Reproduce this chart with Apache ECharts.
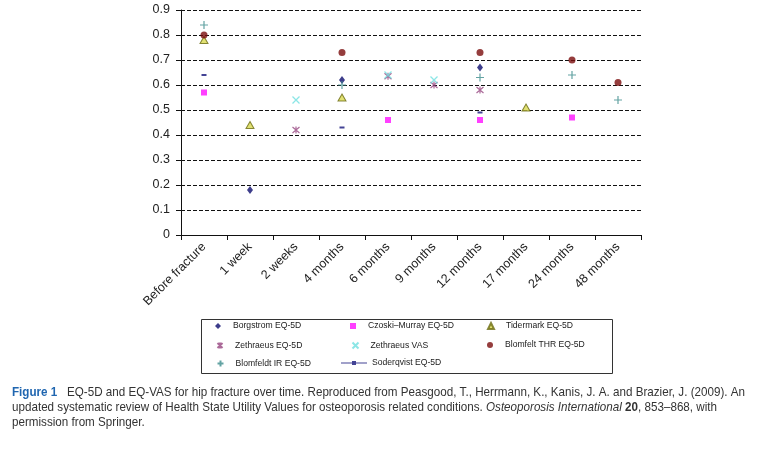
<!DOCTYPE html>
<html>
<head>
<meta charset="utf-8">
<script src="https://cdn.jsdelivr.net/npm/echarts@6/dist/echarts.min.js"></script>
<style>
html,body{margin:0;padding:0;background:#fff;}
#c{width:768px;height:454px;}
</style>
</head>
<body>
<div id="c"></div>
<script>
// ---- data ----
var categories = ['Before fracture','1 week','2 weeks','4 months','6 months','9 months','12 months','17 months','24 months','48 months'];
var yTicks = [0,0.1,0.2,0.3,0.4,0.5,0.6,0.7,0.8,0.9];
var borgstrom = [null,0.18,null,0.62,null,null,0.67,null,null,null];
var czoskiMurray = [0.57,null,null,null,0.46,null,0.46,null,0.47,null];
var tidermark = [0.78,0.44,null,0.55,null,null,null,0.51,null,null];
var zethraeusEq = [null,null,0.42,null,0.635,0.60,0.58,null,null,null];
var zethraeusVas = [null,null,0.54,null,0.64,0.62,null,null,null,null];
var blomfeltThr = [0.80,null,null,0.73,null,null,0.73,null,0.70,0.61];
var blomfeldtIr = [0.84,null,null,0.60,null,null,0.63,null,0.64,0.54];
var soderqvist = [0.64,null,null,0.43,null,null,0.49,null,null,null];

var FONT = '"Liberation Sans", Arial, Helvetica, sans-serif';
var CAP_SIZE = 13;

var SYM_X = 'path://M0,0L10,10M10,0L0,10';
var SYM_AST = 'path://M0,0L10,10M10,0L0,10M5,-1L5,11';
var SYM_PLUS = 'path://M5,0L5,10M0,5L10,5';
var SYM_SODER_LEG = 'path://M0,1.5L26,1.5L26,2.5L0,2.5Z M11,0L15,0L15,4L11,4Z';

var seriesDefs = [
  {name:'Borgstrom EQ-5D', data:borgstrom, symbol:'diamond', size:[6,8], style:{color:'#0d0d6e'}, leg:{x:218,y:326}},
  {name:'Czoski\u2013Murray EQ-5D', data:czoskiMurray, symbol:'rect', size:6, style:{color:'#ff10ff'}, leg:{x:353,y:326}},
  {name:'Tidermark EQ-5D', data:tidermark, symbol:'triangle', size:[8,7], style:{color:'#dada50', borderColor:'#6a6a10', borderWidth:1}, leg:{x:490,y:326}},
  {name:'Zethraeus EQ-5D', data:zethraeusEq, symbol:SYM_AST, size:[7,7], style:{color:'none', borderColor:'#96457f', borderWidth:1.2}, leg:{x:218,y:345}},
  {name:'Zethraeus VAS', data:zethraeusVas, symbol:SYM_X, size:[7,7], style:{color:'none', borderColor:'#6fe0e0', borderWidth:1.3}, leg:{x:353,y:345}},
  {name:'Blomfelt THR EQ-5D', data:blomfeltThr, symbol:'circle', size:7, style:{color:'#7a0c0c'}, leg:{x:490,y:345}},
  {name:'Blomfeldt IR EQ-5D', data:blomfeldtIr, symbol:SYM_PLUS, size:[8,8], style:{color:'none', borderColor:'#3c8c8c', borderWidth:1.2}, leg:{x:218,y:363}},
  {name:'Soderqvist EQ-5D', data:soderqvist, symbol:'rect', size:[5,2], style:{color:'#14147a'}, leg:{x:354,y:363, icon:SYM_SODER_LEG, w:26, h:4}}
];

var series = seriesDefs.map(function(s){
  return {
    name: s.name, type:'scatter', data: s.data,
    symbol: s.symbol, symbolSize: s.size,
    itemStyle: s.style, z: 3,
    emphasis:{disabled:true}, animation:false
  };
});

var legends = seriesDefs.map(function(s){
  var w = s.leg.w || 6, h = s.leg.h || 6;
  var icon = s.leg.icon || s.symbol;
  return {
    data:[{name:s.name, icon:icon}],
    left: s.leg.x - w/2, top: s.leg.y - 5,
    orient:'vertical', padding:0,
    itemWidth:w, itemHeight:h, itemGap:0,
    selectedMode:false,
    textStyle:{fontFamily:FONT, fontSize:8.6, color:'#1a1a1a', lineHeight:10, padding:[0,0,0, s.leg.w ? 0 : 7]}
  };
});

// caption text fitting (horizontal condensing to the reference line widths)
var mctx = document.createElement('canvas').getContext('2d');
function measure(parts){
  var w = 0;
  parts.forEach(function(p){
    mctx.font = (p.style||'') + ' ' + (p.weight||'normal') + ' ' + CAP_SIZE + 'px ' + FONT;
    w += mctx.measureText(p.t).width;
  });
  return w;
}
var cap1 = [{t:'Figure 1', weight:'bold'},{t:'   EQ-5D and EQ-VAS for hip fracture over time. Reproduced from Peasgood, T., Herrmann, K., Kanis, J. A. and Brazier, J. (2009). An'}];
var cap2 = [{t:'updated systematic review of Health State Utility Values for osteoporosis related conditions. '},{t:'Osteoporosis International', style:'italic'},{t:' '},{t:'20', weight:'bold'},{t:', 853\u2013868, with'}];
var s1 = 733 / measure(cap1);
var s2 = 705 / measure(cap2);

var option = {
  backgroundColor:'#ffffff',
  animation:false,
  grid:{left:181, right:127, top:10, bottom:219, containLabel:false},
  xAxis:{
    type:'category', data:categories, boundaryGap:true,
    axisLine:{lineStyle:{color:'#111', width:1}},
    axisTick:{show:true, interval:0, length:5, lineStyle:{color:'#111'}},
    axisLabel:{interval:0, rotate:45, margin:10, fontFamily:FONT, fontSize:12.5, color:'#222'},
    splitLine:{show:false}
  },
  yAxis:{
    type:'value', min:0, max:0.9, interval:0.1,
    axisLine:{show:true, lineStyle:{color:'#111', width:1}},
    axisTick:{show:true, length:5, inside:false, lineStyle:{color:'#111'}},
    axisLabel:{margin:11, fontFamily:FONT, fontSize:12.5, color:'#222',
      formatter:function(v){ var i = Math.round(v*10); return i===0 ? '0' : (i/10).toFixed(1); }},
    splitLine:{show:true, lineStyle:{color:'#111', type:[4,2], width:1}}
  },
  legend: legends,
  series: series,
  graphic:[
    {type:'rect', shape:{x:201.5, y:319.5, width:411, height:54}, style:{fill:'none', stroke:'#333', lineWidth:1}, z:1},
    {type:'text', x:12, y:392, scaleX:s1, style:{
      text:'{b|Figure 1}   EQ-5D and EQ-VAS for hip fracture over time. Reproduced from Peasgood, T., Herrmann, K., Kanis, J. A. and Brazier, J. (2009). An',
      font:CAP_SIZE + 'px ' + FONT, fill:'#333', verticalAlign:'middle',
      rich:{b:{fontFamily:FONT, fontSize:CAP_SIZE, fontWeight:'bold', fill:'#2066b0'}}
    }},
    {type:'text', x:12, y:407, scaleX:s2, style:{
      text:'updated systematic review of Health State Utility Values for osteoporosis related conditions. {i|Osteoporosis International} {bd|20}, 853\u2013868, with',
      font:CAP_SIZE + 'px ' + FONT, fill:'#333', verticalAlign:'middle',
      rich:{i:{fontFamily:FONT, fontSize:CAP_SIZE, fontStyle:'italic', fill:'#333'}, bd:{fontFamily:FONT, fontSize:CAP_SIZE, fontWeight:'bold', fill:'#333'}}
    }},
    {type:'text', x:12, y:422, scaleX:s1, style:{
      text:'permission from Springer.',
      font:CAP_SIZE + 'px ' + FONT, fill:'#333', verticalAlign:'middle'
    }}
  ]
};

var chart = echarts.init(document.getElementById('c'), null, {renderer:'canvas'});
chart.setOption(option);
</script>
</body>
</html>
